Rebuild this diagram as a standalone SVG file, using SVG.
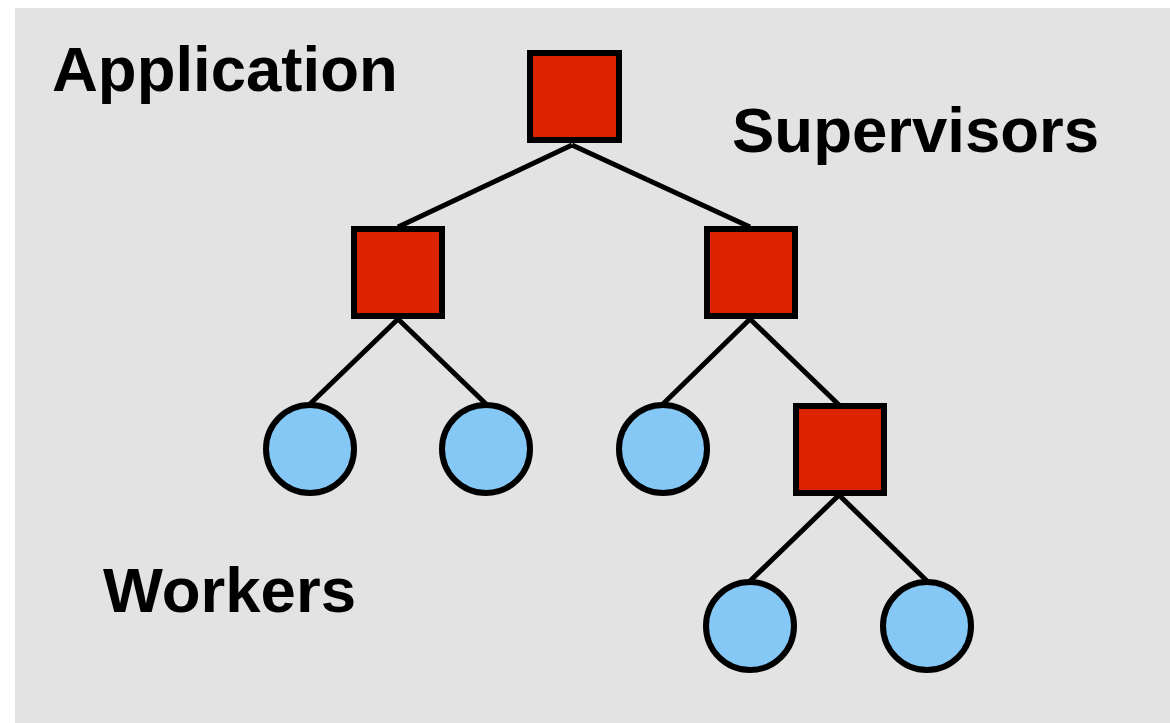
<svg xmlns="http://www.w3.org/2000/svg" width="1170" height="723" viewBox="0 0 1170 723">
<style>
.sup{fill:#dd2200;stroke:#000;stroke-width:6}
.wrk{fill:#85c7f5;stroke:#000;stroke-width:6}
.lbl{font-family:"Liberation Sans",Arial,sans-serif;font-weight:bold;font-size:63.5px;fill:#000}
.edge{stroke:#000;stroke-width:5;fill:none}
</style>
<rect x="0" y="0" width="1170" height="723" fill="#ffffff"/>
<rect x="15" y="8" width="1155" height="715" fill="#e3e3e3"/>
<g id="connectors">
<line class="edge" x1="572" y1="145" x2="398" y2="227"/>
<line class="edge" x1="572" y1="145" x2="750" y2="227"/>
<line class="edge" x1="398" y1="319" x2="310" y2="404"/>
<line class="edge" x1="398" y1="319" x2="486" y2="404"/>
<line class="edge" x1="750" y1="319" x2="663" y2="404"/>
<line class="edge" x1="750" y1="319" x2="839" y2="405"/>
<line class="edge" x1="839" y1="495" x2="750" y2="581"/>
<line class="edge" x1="839" y1="495" x2="927" y2="581"/>
</g>
<g id="root"><rect class="sup" x="530" y="53" width="89" height="87"/></g>
<g id="sup-left"><rect class="sup" x="354" y="229" width="88" height="87"/></g>
<g id="sup-right"><rect class="sup" x="707" y="229" width="88" height="87"/></g>
<g id="sup-sub"><rect class="sup" x="796" y="406" width="88" height="87"/></g>
<g id="w1"><circle class="wrk" cx="310" cy="449" r="44"/></g>
<g id="w2"><circle class="wrk" cx="486" cy="449" r="44"/></g>
<g id="w3"><circle class="wrk" cx="663" cy="449" r="44"/></g>
<g id="w4"><circle class="wrk" cx="750" cy="626" r="44"/></g>
<g id="w5"><circle class="wrk" cx="927" cy="626" r="44"/></g>
<g id="labels">
<text class="lbl" x="52" y="91">Application</text>
<text class="lbl" x="732" y="152">Supervisors</text>
<text class="lbl" x="103" y="612">Workers</text>
</g>
</svg>
